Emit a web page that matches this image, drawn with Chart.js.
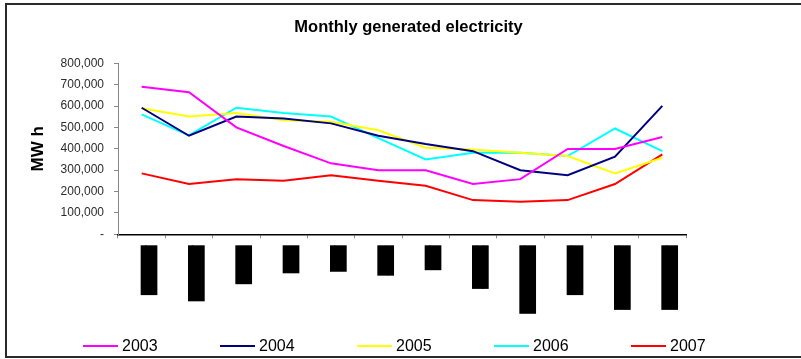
<!DOCTYPE html>
<html>
<head>
<meta charset="utf-8">
<title>Monthly generated electricity</title>
<script src="https://cdn.jsdelivr.net/npm/chart.js@4/dist/chart.umd.min.js"></script>
<style>
  html, body { margin: 0; padding: 0; background: #ffffff; }
  #wrap { width: 801px; height: 359px; }
</style>
</head>
<body>
<div id="wrap"><canvas id="chart" width="801" height="359"></canvas></div>
<script>
// Months on the category axis
const months = ['January', 'February', 'March', 'April', 'May', 'June',
                'July', 'August', 'September', 'October', 'November', 'December'];

// Generated electricity per month (MWh)
const gen2003 = [690000, 665000, 500000, 413000, 332000, 300000, 300000, 235000, 258000, 399000, 399000, 455000];
const gen2004 = [592000, 461000, 551000, 542000, 519000, 461000, 422000, 389000, 300000, 276000, 363000, 601000];
const gen2005 = [590000, 551000, 568000, 534000, 526000, 487000, 405000, 397000, 381000, 366000, 285000, 358000];
const gen2006 = [561000, 463000, 592000, 568000, 551000, 450000, 350000, 381000, 381000, 366000, 495000, 389000];
const gen2007 = [285000, 235000, 258000, 250000, 276000, 250000, 227000, 160000, 152000, 160000, 235000, 374000];

const years = ['2003', '2004', '2005', '2006', '2007'];
const yearColors = ['#ff00ff', '#000080', '#ffff00', '#00ffff', '#ff0000'];
const yearSeries = [gen2003, gen2004, gen2005, gen2006, gen2007];

// Y axis tick values
const yTicks = [0, 100000, 200000, 300000, 400000, 500000, 600000, 700000, 800000];

const FONT = "'Liberation Sans', Arial, Helvetica, sans-serif";

// White page and a thin dark frame round the whole chart
const framePlugin = {
  id: 'frame',
  beforeDraw(chart) {
    const ctx = chart.ctx;
    ctx.save();
    ctx.fillStyle = '#ffffff';
    ctx.fillRect(0, 0, chart.width, chart.height);
    ctx.restore();
  },
  afterDraw(chart) {
    const ctx = chart.ctx;
    ctx.save();
    ctx.strokeStyle = '#2a2a2a';
    ctx.lineWidth = 2;
    ctx.strokeRect(6, 4, chart.width + 10, 353);
    ctx.restore();
  }
};

// Legend row along the bottom: a short line in the series colour, then the year
const yearKeyPlugin = {
  id: 'yearKey',
  afterDraw(chart) {
    const ctx = chart.ctx;
    const y = 346;
    ctx.save();
    chart.data.datasets.forEach((ds, i) => {
      const x0 = 83 + i * 137;
      ctx.strokeStyle = ds.borderColor;
      ctx.lineWidth = 2;
      ctx.beginPath();
      ctx.moveTo(x0, y);
      ctx.lineTo(x0 + 35, y);
      ctx.stroke();
      ctx.fillStyle = '#000000';
      ctx.font = '16px ' + FONT;
      ctx.textBaseline = 'middle';
      ctx.textAlign = 'left';
      ctx.fillText(ds.label, x0 + 39, y + 0.5);
    });
    ctx.restore();
  }
};

const datasets = years.map((yr, i) => ({
  label: yr,
  data: yearSeries[i],
  borderColor: yearColors[i],
  backgroundColor: yearColors[i],
  borderWidth: 2,
  pointRadius: 0,
  pointHoverRadius: 0,
  tension: 0,
  fill: false,
  yAxisID: 'y'
}));

new Chart(document.getElementById('chart'), {
  type: 'line',
  data: { labels: months, datasets: datasets },
  plugins: [framePlugin, yearKeyPlugin],
  options: {
    responsive: false,
    animation: false,
    events: [],
    layout: { padding: { left: 22, right: 6, top: 8, bottom: 34.7 } },
    plugins: {
      legend: { display: false },
      tooltip: { enabled: false },
      title: {
        display: true,
        text: 'Monthly generated electricity',
        color: '#000000',
        font: { family: FONT, size: 16.5, weight: 'bold' },
        padding: { top: 10, bottom: 25.5 }
      }
    },
    scales: {
      x: {
        type: 'category',
        offset: true,
        afterFit(scale) { scale.height = 90; },
        border: { display: true, color: '#000000', width: 1.5 },
        grid: {
          display: true,
          drawOnChartArea: false,
          offset: true,
          tickLength: 4,
          color: '#888888'
        },
        ticks: {
          autoSkip: false,
          minRotation: 90,
          maxRotation: 90,
          padding: 7,
          color: '#000000',
          font: { family: FONT, size: 14, lineHeight: 1.05 },
          showLabelBackdrop: true,
          backdropColor: '#000000',
          backdropPadding: { top: 1, bottom: 1, left: 0, right: 0 }
        }
      },
      y: {
        position: 'left',
        min: 0,
        max: 800000,
        afterFit(scale) { scale.width = 96; },
        afterBuildTicks(scale) { scale.ticks = yTicks.map(v => ({ value: v })); },
        border: { display: true, color: '#888888', width: 1 },
        grid: {
          display: true,
          drawOnChartArea: false,
          tickLength: 4,
          color: '#888888'
        },
        ticks: {
          padding: 10,
          color: '#2b2b2b',
          font: { family: FONT, size: 12 },
          callback: (v) => v === 0 ? '-' : Number(v).toLocaleString('en-US')
        },
        title: {
          display: true,
          text: 'MW h',
          color: '#000000',
          font: { family: FONT, size: 17, weight: 'bold' },
          padding: { top: 6, bottom: 0 }
        }
      },
      // empty spacer on the right keeps the plot narrower than the frame
      spacer: {
        type: 'linear',
        position: 'right',
        display: true,
        afterFit(scale) { scale.width = 109; },
        border: { display: false },
        grid: { display: false },
        ticks: { display: false },
        title: { display: false }
      }
    }
  }
});
</script>
</body>
</html>
